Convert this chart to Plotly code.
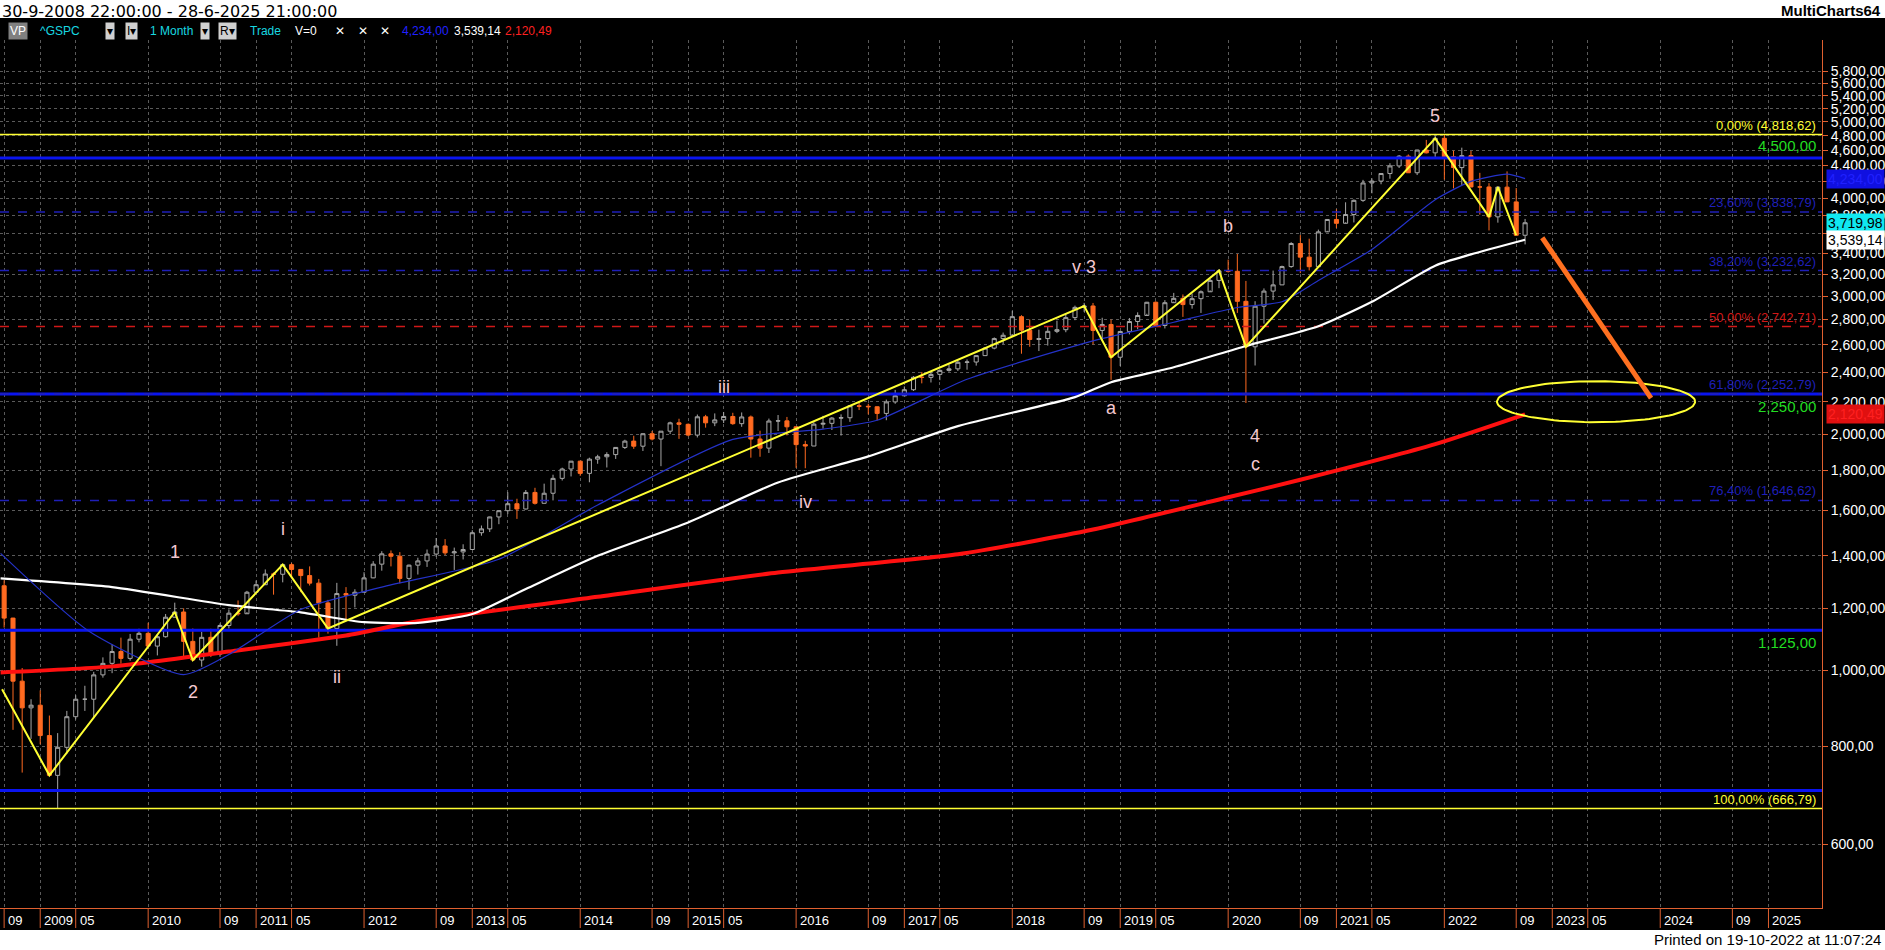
import numpy as np
import pandas as pd
import plotly.graph_objects as go

# ---------------- data ----------------
months = pd.date_range("2008-09-01", "2022-10-01", freq="MS")
closes = [1166, 969, 896, 903,
          826, 735, 798, 873, 919, 919, 987, 1021, 1057, 1036, 1096, 1115,
          1074, 1104, 1169, 1187, 1089, 1031, 1102, 1049, 1141, 1183, 1181, 1258,
          1286, 1327, 1326, 1364, 1345, 1321, 1292, 1219, 1131, 1253, 1247, 1258,
          1312, 1366, 1408, 1398, 1310, 1362, 1379, 1407, 1441, 1412, 1416, 1426,
          1498, 1515, 1569, 1598, 1631, 1606, 1686, 1633, 1682, 1757, 1806, 1848,
          1783, 1859, 1872, 1884, 1924, 1960, 1931, 2003, 1972, 2018, 2068, 2059,
          1995, 2105, 2068, 2086, 2107, 2063, 2104, 1972, 1920, 2079, 2080, 2044,
          1940, 1932, 2060, 2065, 2097, 2099, 2174, 2171, 2168, 2126, 2199, 2239,
          2279, 2364, 2363, 2384, 2412, 2423, 2470, 2472, 2519, 2575, 2648, 2674,
          2824, 2714, 2641, 2648, 2705, 2718, 2816, 2902, 2914, 2712, 2760, 2507,
          2704, 2784, 2834, 2946, 2752, 2942, 2980, 2926, 2977, 3038, 3141, 3231,
          3226, 2954, 2585, 2912, 3044, 3100, 3271, 3500, 3363, 3270, 3622, 3756,
          3714, 3811, 3973, 4181, 4204, 4298, 4395, 4523, 4308, 4605, 4567, 4766,
          4516, 4374, 4530, 4132, 4132, 3785, 4130, 3955, 3586, 3720]
highs = [1303, 1167, 1007, 919,
         943, 876, 832, 888, 930, 956, 996, 1039, 1080, 1101, 1113, 1130,
         1150, 1112, 1180, 1220, 1200, 1131, 1120, 1130, 1148, 1196, 1228, 1263,
         1302, 1345, 1333, 1366, 1371, 1346, 1357, 1308, 1230, 1293, 1277, 1269,
         1334, 1378, 1419, 1422, 1415, 1364, 1392, 1426, 1475, 1470, 1434, 1448,
         1509, 1530, 1570, 1598, 1687, 1655, 1698, 1709, 1730, 1776, 1813, 1849,
         1850, 1867, 1883, 1897, 1924, 1968, 1991, 2005, 2019, 2018, 2075, 2093,
         2064, 2119, 2117, 2126, 2135, 2130, 2132, 2113, 2021, 2094, 2116, 2104,
         2038, 1962, 2072, 2111, 2103, 2120, 2178, 2193, 2187, 2170, 2214, 2278,
         2301, 2372, 2401, 2399, 2419, 2454, 2484, 2491, 2520, 2582, 2657, 2695,
         2873, 2836, 2801, 2718, 2742, 2791, 2848, 2917, 2941, 2940, 2815, 2800,
         2708, 2813, 2860, 2949, 2954, 2964, 3028, 3014, 3022, 3050, 3154, 3248,
         3338, 3394, 3136, 2955, 3068, 3233, 3280, 3514, 3588, 3550, 3646, 3760,
         3870, 3950, 3983, 4219, 4238, 4302, 4430, 4538, 4546, 4608, 4744, 4808,
         4819, 4596, 4637, 4593, 4307, 4178, 4140, 4325, 4119, 3762]
lows = [1134, 840, 741, 818,
        805, 735, 667, 783, 866, 888, 869, 979, 992, 1020, 1029, 1086,
        1071, 1045, 1101, 1170, 1040, 1028, 1011, 1040, 1041, 1131, 1174, 1187,
        1257, 1289, 1249, 1295, 1311, 1258, 1283, 1101, 1114, 1075, 1159, 1203,
        1258, 1311, 1340, 1357, 1291, 1267, 1325, 1355, 1396, 1403, 1343, 1385,
        1426, 1485, 1501, 1536, 1582, 1560, 1604, 1627, 1633, 1647, 1746, 1767,
        1770, 1737, 1834, 1814, 1860, 1915, 1916, 1904, 1964, 1821, 2001, 1973,
        1988, 1981, 2039, 2048, 2067, 2056, 2044, 1867, 1872, 1893, 2019, 1993,
        1812, 1810, 1932, 2033, 2025, 1992, 2074, 2147, 2120, 2083, 2084, 2187,
        2245, 2271, 2322, 2328, 2344, 2403, 2408, 2417, 2446, 2520, 2566, 2605,
        2683, 2533, 2585, 2553, 2594, 2691, 2698, 2795, 2864, 2604, 2631, 2346,
        2443, 2681, 2722, 2848, 2751, 2728, 2952, 2822, 2891, 2855, 3051, 3070,
        3214, 2855, 2192, 2447, 2767, 2966, 3101, 3260, 3209, 3234, 3279, 3633,
        3663, 3725, 3723, 3955, 4056, 4165, 4233, 4368, 4306, 4279, 4560, 4495,
        4222, 4115, 4157, 4129, 3810, 3637, 3721, 3954, 3584, 3491]
opens = [1282] + closes[:-1]

ma_blue_x = ["2008-08-20", "2009-06-15", "2010-05-01", "2010-10-01", "2011-06-01", "2012-03-01",
             "2013-04-01", "2014-03-01", "2015-06-01", "2016-04-01", "2016-10-01", "2017-08-01",
             "2018-10-01", "2019-07-01", "2020-02-01", "2020-07-01", "2020-11-01", "2021-05-01",
             "2021-12-01", "2022-04-01", "2022-08-01", "2022-10-01"]
ma_blue_y = [1410, 1122, 988, 1048, 1196, 1277, 1386, 1625, 1970, 2030, 2084, 2350,
             2630, 2778, 2901, 2950, 3140, 3440, 3980, 4200, 4290, 4234]
ma_white_x = ["2008-08-20", "2009-09-01", "2010-10-01", "2011-06-01", "2012-01-01", "2012-07-01",
              "2013-01-01", "2013-07-01", "2014-03-01", "2015-01-01", "2015-11-01",
              "2016-09-01", "2017-07-01", "2018-08-01", "2018-12-01", "2019-07-01", "2020-03-01",
              "2020-11-01", "2021-05-01", "2021-12-01", "2022-04-01", "2022-10-01"]
ma_white_y = [1310, 1277, 1211, 1186, 1152, 1150, 1180, 1270, 1400, 1544, 1736,
              1874, 2048, 2230, 2330, 2434, 2591, 2746, 2950, 3280, 3390, 3539.14]
ma_red_x = ["2008-08-20", "2009-09-01", "2010-10-01", "2011-11-01", "2012-07-01", "2014-03-01",
            "2015-11-01", "2017-07-01", "2018-10-01", "2020-01-01", "2020-09-01", "2021-12-01",
            "2022-10-01"]
ma_red_y = [994, 1012, 1057, 1108, 1155, 1241, 1333, 1406, 1512, 1662, 1750, 1943, 2120.49]

wave_x = ["2008-08-25", "2009-02-01", "2010-04-01", "2010-06-01", "2011-04-01", "2011-09-01",
          "2018-09-01", "2018-12-01", "2019-12-01", "2020-03-01", "2021-12-01", "2022-06-01",
          "2022-07-01", "2022-09-01"]
wave_y = [946, 735, 1187, 1031, 1364, 1131, 2914, 2507, 3231, 2585, 4766, 3785, 4130, 3586]

wave_labels = ["1", "2", "i", "ii", "iii", "iv", "v 3", "a", "b", "4", "c", "5"]
wave_label_x = ["2010-04-01", "2010-06-01", "2011-04-01", "2011-10-01", "2015-05-01", "2016-02-01",
                "2018-09-01", "2018-12-01", "2020-01-01", "2020-04-01", "2020-04-01", "2021-12-01"]
wave_label_y = [1415, 940, 1514, 982, 2297, 1637, 3268, 2159, 3690, 1988, 1835, 5090]

arrow_x = ["2022-11-28", "2023-12-01"]
arrow_y = [3560, 2224]
ellipse_x = ["2022-06-28", "2024-04-28"]
ellipse_y = [2072, 2337]

fib_levels = [4818.62, 3838.79, 3232.62, 2742.71, 2252.79, 1646.62, 666.79]
fib_labels = ["0,00% (4,818,62)", "23,60% (3,838,79)", "38,20% (3,232,62)", "50,00% (2,742,71)",
              "61,80% (2,252,79)", "76,40% (1,646,62)", "100,00% (666,79)"]
fib_colors = ["#ffff33", "#1f1fb8", "#1f1fb8", "#d01818", "#1f1fb8", "#1f1fb8", "#ffff33"]
fib_dash = ["solid", "dash", "dash", "dash", "dash", "dash", "solid"]
support_levels = [4500, 2250, 1125, 703]
support_labels = ["4,500,00", "2,250,00", "1,125,00", ""]

y_ticks = [600, 800, 1000, 1200, 1400, 1600, 1800, 2000, 2200, 2400, 2600, 2800, 3000, 3200,
           3400, 3600, 3800, 4000, 4200, 4400, 4600, 4800, 5000, 5200, 5400, 5600, 5800]
x_tick_vals = ["2008-09-01", "2009-01-01", "2009-05-01", "2010-01-01", "2010-09-01", "2011-01-01",
               "2011-05-01", "2012-01-01", "2012-09-01", "2013-01-01", "2013-05-01", "2014-01-01",
               "2014-09-01", "2015-01-01", "2015-05-01", "2016-01-01", "2016-09-01", "2017-01-01",
               "2017-05-01", "2018-01-01", "2018-09-01", "2019-01-01", "2019-05-01", "2020-01-01",
               "2020-09-01", "2021-01-01", "2021-05-01", "2022-01-01", "2022-09-01", "2023-01-01",
               "2023-05-01", "2024-01-01", "2024-09-01", "2025-01-01"]
x_tick_text = ["09", "2009", "05", "2010", "09", "2011", "05", "2012", "09", "2013", "05", "2014",
               "09", "2015", "05", "2016", "09", "2017", "05", "2018", "09", "2019", "05", "2020",
               "09", "2021", "05", "2022", "09", "2023", "05", "2024", "09", "2025"]

X0, X1 = "2008-08-18", "2025-07-01"
PH = 950 - 40 - 42  # plot height px
PW = 1885 - 63
FONT = "Liberation Sans"

fig = go.Figure()

for lv in support_levels:
    fig.add_trace(go.Scatter(x=[X0, X1], y=[lv, lv], mode="lines",
                             line=dict(color="#0a14f0", width=3), hoverinfo="skip"))
for lv, col, d in zip(fib_levels, fib_colors, fib_dash):
    fig.add_trace(go.Scatter(x=[X0, X1], y=[lv, lv], mode="lines",
                             line=dict(color=col, width=1.5, dash=d), hoverinfo="skip"))

fig.add_trace(go.Scatter(x=ma_red_x, y=ma_red_y, mode="lines",
                         line=dict(color="#ff1010", width=4, shape="spline", smoothing=0.6)))
fig.add_trace(go.Scatter(x=ma_white_x, y=ma_white_y, mode="lines",
                         line=dict(color="#ffffff", width=2.2, shape="spline", smoothing=0.6)))
fig.add_trace(go.Scatter(x=ma_blue_x, y=ma_blue_y, mode="lines",
                         line=dict(color="#2432c8", width=1.2, shape="spline", smoothing=0.6)))

fig.add_trace(go.Candlestick(x=months, open=opens, high=highs, low=lows, close=closes,
                             increasing=dict(line=dict(color="#a8a8a8", width=1), fillcolor="#000000"),
                             decreasing=dict(line=dict(color="#ff6a20", width=1), fillcolor="#ff6a20"),
                             whiskerwidth=0))

fig.add_trace(go.Scatter(x=wave_x, y=wave_y, mode="lines", line=dict(color="#ffff33", width=2)))

# target ellipse drawn from its bounding box (time on x, log price on y)
ex = pd.to_datetime(ellipse_x).astype("int64").to_numpy().astype(float)
ey = np.log10(ellipse_y)
th = np.linspace(0, 2 * np.pi, 120)
ell_x = pd.to_datetime((ex.mean() + (ex[1] - ex[0]) / 2 * np.cos(th)).astype("int64"))
ell_y = 10 ** (ey.mean() + (ey[1] - ey[0]) / 2 * np.sin(th))
fig.add_trace(go.Scatter(x=ell_x, y=ell_y, mode="lines", line=dict(color="#ffff33", width=2)))

fig.add_trace(go.Scatter(x=arrow_x, y=arrow_y, mode="lines", line=dict(color="#ff7020", width=5)))

ann = []
for t, x, y in zip(wave_labels, wave_label_x, wave_label_y):
    ann.append(dict(x=x, y=np.log10(y), text=t, showarrow=False,
                    font=dict(color="#f4c8d0", size=18, family=FONT)))
for lv, t, c in zip(fib_levels, fib_labels, fib_colors):
    ann.append(dict(xref="paper", x=0.998, y=np.log10(lv), text=t, showarrow=False,
                    xanchor="right", yanchor="bottom", font=dict(color=c, size=13, family=FONT)))
for lv, t, ya in zip(support_levels, support_labels, ["bottom", "top", "top", "top"]):
    if t:
        ann.append(dict(xref="paper", x=0.998, y=np.log10(lv), text=t, showarrow=False,
                        xanchor="right", yanchor=ya, yshift=(2 if ya == "bottom" else -2),
                        font=dict(color="#22dd22", size=15, family=FONT)))
for v, bg, fc in [(4234.00, "#1010e0", "#2020ff"), (3719.98, "#10e8f0", "#000000"),
                  (3539.14, "#ffffff", "#000000"), (2120.49, "#e01010", "#ff2020")]:
    txt = f"{v:,.2f}".replace(".", ",")
    ann.append(dict(xref="paper", x=1.0, y=np.log10(v), text=txt,
                    showarrow=False, xanchor="left", xshift=4, bgcolor=bg, borderpad=1,
                    font=dict(color=fc, size=14, family=FONT)))
for v, t in zip(x_tick_vals, x_tick_text):
    ann.append(dict(x=v, xref="x", yref="paper", y=0, yanchor="top", xanchor="left", xshift=2, yshift=-3,
                    text=t, showarrow=False,
                    font=dict(color="#ffffff", size=13, family=FONT)))
ann.append(dict(xref="paper", yref="paper", x=0, y=1 + 40 / PH, xanchor="left", yanchor="top",
                text="30-9-2008 22:00:00 - 28-6-2025 21:00:00", showarrow=False,
                font=dict(color="#000000", size=16, family="DejaVu Sans")))
ann.append(dict(xref="paper", yref="paper", x=1883 / PW, y=1 + 40 / PH, xanchor="right", yanchor="top",
                text="<b>MultiCharts64</b>", showarrow=False,
                font=dict(color="#000000", size=15, family=FONT)))
ann.append(dict(xref="paper", yref="paper", x=1883 / PW, y=-42 / PH, xanchor="right", yanchor="bottom",
                text="Printed on 19-10-2022 at 11:07:24", showarrow=False,
                font=dict(color="#000000", size=15, family=FONT)))
toolbar = [(8, "VP", "#ffffff", "#808080"), (38, "^GSPC", "#18d8e0", None), (105, "▾", "#000000", "#d0d0d0"),
           (125, "I▾", "#000000", "#d0d0d0"), (148, "1 Month", "#18d8e0", None), (200, "▾", "#000000", "#d0d0d0"),
           (218, "R▾", "#000000", "#d0d0d0"), (248, "Trade", "#18d8e0", None), (293, "V=0", "#ffffff", None),
           (333, "✕", "#ffffff", None), (356, "✕", "#ffffff", None), (378, "✕", "#ffffff", None),
           (400, "4,234,00", "#2020ff", None), (452, "3,539,14", "#ffffff", None), (503, "2,120,49", "#ff2020", None)]
for xp, t, c, bg in toolbar:
    d = dict(xref="paper", yref="paper", x=xp / PW, y=1 + 9 / PH, xanchor="left", yanchor="middle",
             text=t, showarrow=False, font=dict(color=c, size=12, family=FONT))
    if bg:
        d["bgcolor"] = bg
    ann.append(d)

shapes = [
    dict(type="rect", xref="paper", yref="paper", x0=0, x1=1885 / PW, y0=1 + 22 / PH, y1=1 + 40 / PH,
         fillcolor="#ffffff", line_width=0, layer="below"),
    dict(type="rect", xref="paper", yref="paper", x0=0, x1=1885 / PW, y0=-42 / PH, y1=-22 / PH,
         fillcolor="#ffffff", line_width=0, layer="below"),
]
for v in x_tick_vals:
    shapes.append(dict(type="line", xref="x", yref="paper", x0=v, x1=v, y0=0, y1=-20 / PH,
                       line=dict(color="#e06030", width=1)))

fig.update_layout(
    width=1885, height=950, showlegend=False,
    paper_bgcolor="#000000", plot_bgcolor="#000000",
    margin=dict(l=0, r=63, t=40, b=42),
    annotations=ann, shapes=shapes,
    xaxis=dict(type="date", range=[X0, X1], rangeslider=dict(visible=False),
               tickvals=x_tick_vals, showticklabels=False, ticks="",
               showgrid=True, gridcolor="#5a5a5a", griddash="dot", gridwidth=1,
               showline=True, linecolor="#e06030", linewidth=1, zeroline=False),
    yaxis=dict(type="log", side="right", range=[np.log10(498), np.log10(6360)],
               tickvals=y_ticks, ticktext=[f"{v:,},00" for v in y_ticks],
               tickfont=dict(color="#ffffff", size=14, family=FONT),
               ticks="outside", ticklen=5, tickcolor="#e06030",
               showgrid=True, gridcolor="#5a5a5a", griddash="dot", gridwidth=1,
               showline=True, linecolor="#e06030", linewidth=1, zeroline=False),
)
fig.write_html("out.html", config={"displayModeBar": False},
               post_script="document.body.style.margin='0';document.body.style.overflow='hidden';")
